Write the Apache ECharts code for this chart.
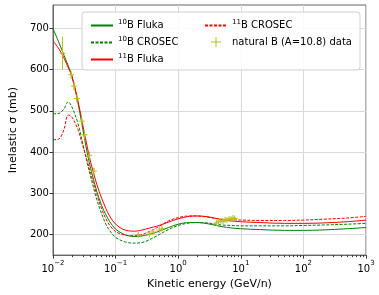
<!DOCTYPE html>
<html><head><meta charset="utf-8">
<script src="https://cdn.jsdelivr.net/npm/echarts@6/dist/echarts.min.js"></script>
<style>html,body{margin:0;padding:0;background:#fff}#c{width:379px;height:295px}</style>
</head><body><div id="c"></div>
<script>
const energy = [0.01,0.0125,0.015,0.0175,0.02,0.025,0.03,0.035,0.04,0.05,0.06,0.07,0.08,0.1,0.13,0.16,0.2,0.25,0.3,0.4,0.5,0.7,1,1.5,2,3,4,5,7,10,20,50,100,200,500,1000];
const b10Fluka  = [700,665,635,610,585,520,455,400,360,305,270,248,232,213,202,197,195,196,198,203,208,217,225,229,229,226,222,219,216,214,212,210,210,211,214,217];
const b10Crosec = [493,494,505,522,510,470,420,375,340,285,250,225,210,193,184,180,179,180,183,192,200,212,222,228,229,228,225,223,222,221,221,221,222,223,225,227];
const b11Fluka  = [670,650,628,605,585,525,465,415,375,322,288,263,245,225,213,209,208,210,213,218,222,230,238,244,245,243,239,236,233,231,229,227,227,228,231,235];
const b11Crosec = [430,432,455,490,485,455,415,380,348,297,262,238,223,207,200,197,197,199,203,212,220,233,241,245,245,242,239,237,236,235,234,234,235,237,240,244];
const dataE     = [0.0142,0.0195,0.0217,0.0241,0.0288,0.032,0.038,0.045,0.23,0.35,0.40,0.50,0.55,4.1,4.4,4.8,5.2,5.6,6.0,6.5,7.0,7.5,8.0];
const dataSigma = [640,588,560,530,475,442,392,354,199,201,206,211,214,228,231,233,232,236,235,238,237,240,239];
const dataErr   = [40,10,10,10,10,10,8,8,4,4,4,4,4,3,3,3,3,3,3,3,3,3,3];
const xTickExps = [-2,-1,0,1,2,3];
const yTicks = [200,300,400,500,600,700];

const FONT = 'DejaVu Sans';
const OLIVE = '#bcbd22';
const zip = (a,b) => a.map((v,i)=>[v,b[i]]);
const minorTicks = [];
xTickExps.slice(0,-1).forEach(e => { for (let k=2;k<=9;k++) minorTicks.push(k*Math.pow(10,e)); });
const supRich = {
  b: {fontFamily: FONT, fontSize: 10, color: '#000', lineHeight: 14, verticalAlign: 'bottom'},
  s: {fontFamily: FONT, fontSize: 7, color: '#000', lineHeight: 14, verticalAlign: 'top'}
};
const legendNames = {
  'b10F': '{s|10}{b|B Fluka}', 'b10C': '{s|10}{b|B CROSEC}', 'b11F': '{s|11}{b|B Fluka}',
  'b11C': '{s|11}{b|B CROSEC}', 'nat': '{b|natural B (A=10.8) data}'
};
const legRich = {
  b: {fontFamily: FONT, fontSize: 10, color: '#000', lineHeight: 13},
  s: {fontFamily: FONT, fontSize: 7, color: '#000', lineHeight: 13, verticalAlign: 'top'}
};
const corners = 'M0,0H0.01V0.01H0Z M21.99,11.99H22V12H21.99Z ';
const plusIcon = 'path://' + corners + 'M6,5.5H16V6.5H6Z M10.5,1H11.5V11H10.5Z';

const chart = echarts.init(document.getElementById('c'), null, {renderer: 'canvas'});
const lineSeries = (name, data, color, dashed) => ({
  name, type: 'line', data: zip(energy, data), showSymbol: false, symbol: 'none', smooth: 0.35,
  lineStyle: {color, width: 1, type: dashed ? [3, 1.5] : 'solid'}, itemStyle: {color}, z: 3, animation: false
});
const legCommon = {orient: 'vertical', top: 14, itemGap: 5.5, itemWidth: 22, itemHeight: 12, z: 6,
  itemStyle: {opacity: 0}, formatter: n => legendNames[n], textStyle: {rich: legRich}};
chart.setOption({
  animation: false,
  textStyle: {fontFamily: FONT},
  grid: {left: 39, right: 13, top: 5, bottom: 36, show: true, borderColor: '#666', borderWidth: 1, backgroundColor: 'transparent'},
  graphic: [{type: 'rect', shape: {x: 82, y: 12, width: 278, height: 58, r: 3}, style: {fill: 'rgba(255,255,255,0.85)', stroke: '#d0d0d0', lineWidth: 1}, z: 5}],
  legend: [
    Object.assign({data: ['b10F', 'b10C', 'b11F'], left: 85}, legCommon),
    Object.assign({data: ['b11C', {name: 'nat', icon: plusIcon, itemStyle: {color: OLIVE, opacity: 1}}], left: 199}, legCommon)
  ],
  xAxis: [{
    type: 'log', logBase: 10, min: 0.01, max: 1000, position: 'bottom',
    name: 'Kinetic energy (GeV/n)', nameLocation: 'middle', nameGap: 20,
    nameTextStyle: {fontFamily: FONT, fontSize: 11, color: '#000'},
    axisLine: {show: true, lineStyle: {color: '#666'}},
    axisTick: {show: true, inside: false, length: 3.5, lineStyle: {color: '#333'}, customValues: xTickExps.map(e=>Math.pow(10,e))},
    axisLabel: {margin: 5, customValues: xTickExps.map(e=>Math.pow(10,e)),
      formatter: v => { const e = Math.round(Math.log10(v)); return '{b|10}{s|' + (e<0 ? '\u2212'+(-e) : e) + '}'; },
      rich: supRich},
    splitLine: {show: true, lineStyle: {color: '#d9d9d9', width: 1}}
  }, {
    type: 'log', logBase: 10, min: 0.01, max: 1000, position: 'bottom', gridIndex: 0,
    axisLine: {show: false}, axisLabel: {show: false}, splitLine: {show: false},
    axisTick: {show: true, length: 2, lineStyle: {color: '#333'}, customValues: minorTicks}
  }],
  yAxis: {
    type: 'value', min: 150, max: 757,
    name: 'Inelastic \u03c3 (mb)', nameLocation: 'middle', nameGap: 26,
    nameTextStyle: {fontFamily: FONT, fontSize: 11, color: '#000'},
    axisLine: {show: true, lineStyle: {color: '#666'}},
    axisTick: {show: true, length: 3.5, lineStyle: {color: '#333'}, customValues: yTicks},
    axisLabel: {customValues: yTicks, fontFamily: FONT, fontSize: 10, color: '#000', margin: 4},
    splitLine: {show: true, lineStyle: {color: '#d9d9d9', width: 1}}
  },
  series: [
    lineSeries('b10F', b10Fluka, 'green', false),
    lineSeries('b10C', b10Crosec, 'green', true),
    lineSeries('b11F', b11Fluka, 'red', false),
    lineSeries('b11C', b11Crosec, 'red', true),
    {
      name: 'nat', type: 'custom', z: 4, itemStyle: {color: OLIVE},
      data: dataE.map((e,i)=>[e, dataSigma[i], dataErr[i]]),
      renderItem: (params, api) => {
        const x = api.value(0), y = api.value(1), er = api.value(2);
        const p = api.coord([x, y]), lo = api.coord([x, y-er]), hi = api.coord([x, y+er]);
        const st = {stroke: OLIVE, lineWidth: 1};
        return {type: 'group', children: [
          {type: 'line', shape: {x1: lo[0], y1: lo[1], x2: hi[0], y2: hi[1]}, style: st},
          {type: 'line', shape: {x1: p[0]-3, y1: p[1], x2: p[0]+3, y2: p[1]}, style: st},
          {type: 'line', shape: {x1: p[0], y1: p[1]-3, x2: p[0], y2: p[1]+3}, style: st}
        ]};
      }
    }
  ]
});
</script></body></html>
